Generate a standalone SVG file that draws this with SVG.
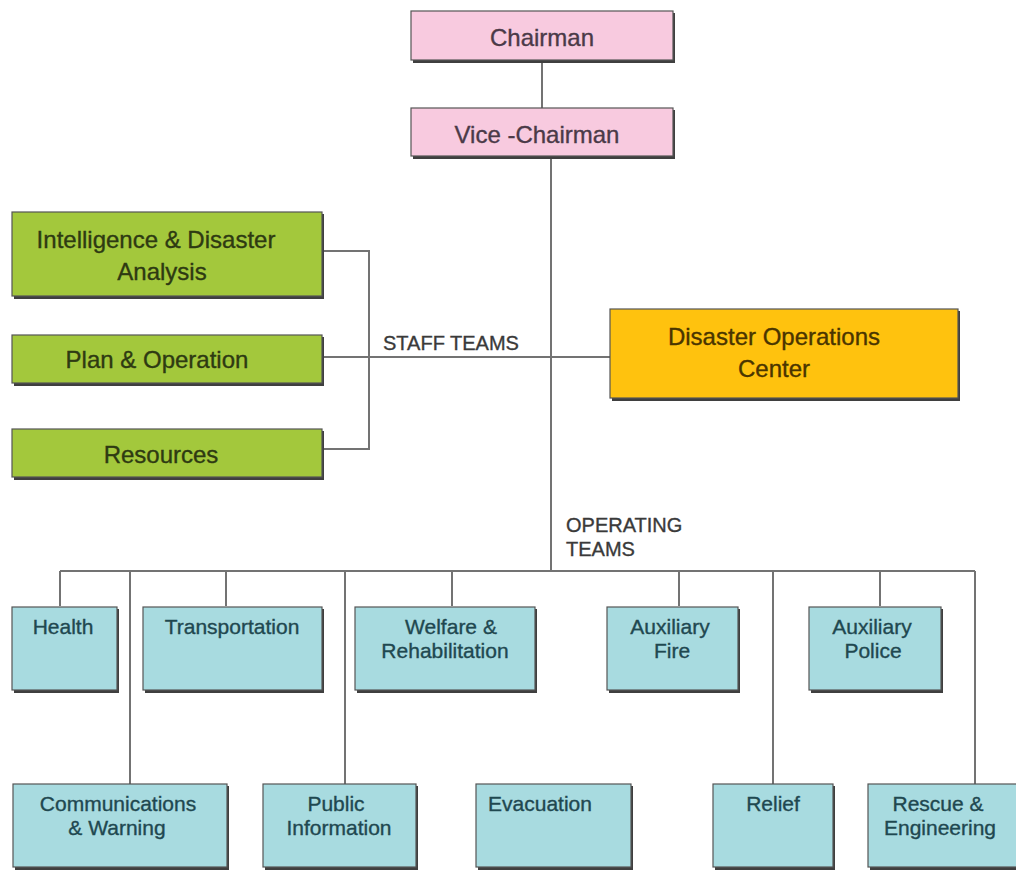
<svg xmlns="http://www.w3.org/2000/svg" width="1016" height="871" viewBox="0 0 1016 871">
  <style>
    .shadow { fill: #3f3f3f; }
    .box { stroke: #555555; stroke-width: 1.2; }
    .pink { fill: #f8cadf; }
    .green { fill: #a3c83c; }
    .gold { fill: #ffc20e; }
    .blue { fill: #a8dbe0; }
    text { font-family: "Liberation Sans", Arial, sans-serif; text-anchor: middle; stroke-width: 0.35; }
    .t-pink { font-size: 24px; fill: #4b3a48; stroke: #4b3a48; }
    .t-green { font-size: 24px; fill: #2e3a12; stroke: #2e3a12; }
    .t-gold { font-size: 24px; fill: #4a3500; stroke: #4a3500; }
    .t-blue { font-size: 21px; fill: #1f4850; stroke: #1f4850; }
    .label { font-size: 20px; fill: #3a3a3a; stroke: #3a3a3a; text-anchor: start; }
    .wire { fill: none; stroke: #737373; stroke-width: 2; }
  </style>

  <rect width="1016" height="871" fill="#ffffff"/>

  <!-- connectors -->
  <g id="connectors" class="wire">
    <line x1="542" y1="60" x2="542" y2="108"/>
    <line x1="551" y1="156" x2="551" y2="571"/>
    <!-- staff teams bracket -->
    <polyline points="322,251 369,251 369,449 322,449"/>
    <line x1="322" y1="357" x2="610" y2="357"/>
    <!-- operating teams bus -->
    <line x1="60" y1="571" x2="975" y2="571"/>
    <line x1="60" y1="571" x2="60" y2="606"/>
    <line x1="130" y1="571" x2="130" y2="784"/>
    <line x1="226" y1="571" x2="226" y2="606"/>
    <line x1="345" y1="571" x2="345" y2="784"/>
    <line x1="452" y1="571" x2="452" y2="606"/>
    <line x1="679" y1="571" x2="679" y2="606"/>
    <line x1="773" y1="571" x2="773" y2="784"/>
    <line x1="880" y1="571" x2="880" y2="606"/>
    <line x1="975" y1="571" x2="975" y2="784"/>
  </g>

  <text class="label" x="383" y="350">STAFF TEAMS</text>
  <text class="label" x="566" y="532">OPERATING</text>
  <text class="label" x="566" y="556">TEAMS</text>

  <!-- leadership -->
  <g id="chairman">
    <rect class="shadow" x="413" y="13" width="262" height="50"/>
    <rect class="box pink" x="411" y="11" width="262" height="49"/>
    <text class="t-pink" x="542" y="46">Chairman</text>
  </g>
  <g id="vice-chairman">
    <rect class="shadow" x="413" y="110" width="262" height="49"/>
    <rect class="box pink" x="411" y="108" width="262" height="48"/>
    <text class="t-pink" x="537" y="143">Vice -Chairman</text>
  </g>

  <!-- staff teams -->
  <g id="intelligence">
    <rect class="shadow" x="14" y="214" width="310" height="85"/>
    <rect class="box green" x="12" y="212" width="310" height="84"/>
    <text class="t-green" x="156" y="248">Intelligence &amp; Disaster</text>
    <text class="t-green" x="162" y="280">Analysis</text>
  </g>
  <g id="plan-operation">
    <rect class="shadow" x="14" y="337" width="310" height="49"/>
    <rect class="box green" x="12" y="335" width="310" height="48"/>
    <text class="t-green" x="157" y="368">Plan &amp; Operation</text>
  </g>
  <g id="resources">
    <rect class="shadow" x="14" y="431" width="310" height="49"/>
    <rect class="box green" x="12" y="429" width="310" height="48"/>
    <text class="t-green" x="161" y="463">Resources</text>
  </g>
  <g id="disaster-operations-center">
    <rect class="shadow" x="612" y="311" width="348" height="90"/>
    <rect class="box gold" x="610" y="309" width="348" height="89"/>
    <text class="t-gold" x="774" y="345">Disaster Operations</text>
    <text class="t-gold" x="774" y="377">Center</text>
  </g>

  <!-- operating teams, upper row -->
  <g id="health">
    <rect class="shadow" x="14" y="609" width="105" height="84"/>
    <rect class="box blue" x="12" y="607" width="105" height="83"/>
    <text class="t-blue" x="63" y="634">Health</text>
  </g>
  <g id="transportation">
    <rect class="shadow" x="145" y="609" width="179" height="84"/>
    <rect class="box blue" x="143" y="607" width="179" height="83"/>
    <text class="t-blue" x="232" y="634">Transportation</text>
  </g>
  <g id="welfare-rehabilitation">
    <rect class="shadow" x="357" y="609" width="180" height="84"/>
    <rect class="box blue" x="355" y="607" width="180" height="83"/>
    <text class="t-blue" x="451" y="634">Welfare &amp;</text>
    <text class="t-blue" x="445" y="658">Rehabilitation</text>
  </g>
  <g id="auxiliary-fire">
    <rect class="shadow" x="609" y="609" width="131" height="84"/>
    <rect class="box blue" x="607" y="607" width="131" height="83"/>
    <text class="t-blue" x="670" y="634">Auxiliary</text>
    <text class="t-blue" x="672" y="658">Fire</text>
  </g>
  <g id="auxiliary-police">
    <rect class="shadow" x="811" y="609" width="132" height="84"/>
    <rect class="box blue" x="809" y="607" width="132" height="83"/>
    <text class="t-blue" x="872" y="634">Auxiliary</text>
    <text class="t-blue" x="873" y="658">Police</text>
  </g>

  <!-- operating teams, lower row -->
  <g id="communications-warning">
    <rect class="shadow" x="15" y="786" width="214" height="84"/>
    <rect class="box blue" x="13" y="784" width="214" height="83"/>
    <text class="t-blue" x="118" y="811">Communications</text>
    <text class="t-blue" x="117" y="835">&amp; Warning</text>
  </g>
  <g id="public-information">
    <rect class="shadow" x="265" y="786" width="153" height="84"/>
    <rect class="box blue" x="263" y="784" width="153" height="83"/>
    <text class="t-blue" x="336" y="811">Public</text>
    <text class="t-blue" x="339" y="835">Information</text>
  </g>
  <g id="evacuation">
    <rect class="shadow" x="478" y="786" width="155" height="84"/>
    <rect class="box blue" x="476" y="784" width="155" height="83"/>
    <text class="t-blue" x="540" y="811">Evacuation</text>
  </g>
  <g id="relief">
    <rect class="shadow" x="715" y="786" width="120" height="84"/>
    <rect class="box blue" x="713" y="784" width="120" height="83"/>
    <text class="t-blue" x="773" y="811">Relief</text>
  </g>
  <g id="rescue-engineering">
    <rect class="shadow" x="870" y="786" width="150" height="84"/>
    <rect class="box blue" x="868" y="784" width="150" height="83"/>
    <text class="t-blue" x="938" y="811">Rescue &amp;</text>
    <text class="t-blue" x="940" y="835">Engineering</text>
  </g>
</svg>
